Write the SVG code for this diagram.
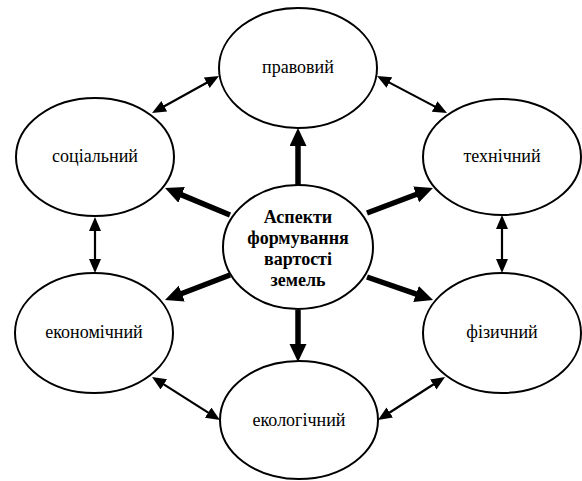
<svg xmlns="http://www.w3.org/2000/svg" width="582" height="481" viewBox="0 0 582 481">
<style>
.n{fill:#fff;stroke:#000;stroke-width:2}
.t{font-family:"Liberation Serif","DejaVu Serif",serif;font-size:18px;text-anchor:middle;fill:#000}
.b{font-weight:bold}
.thick{stroke:#000;stroke-width:5.5;fill:none}
.thin{stroke:#000;stroke-width:2.2;fill:none}
</style>
<defs>
<marker id="hb" markerUnits="userSpaceOnUse" markerWidth="20" markerHeight="20" refX="2" refY="8.5" orient="auto">
<path d="M0,0 L18,8.5 L0,17 z" fill="#000"/>
</marker>
<marker id="hs" markerUnits="userSpaceOnUse" markerWidth="16" markerHeight="14" refX="1" refY="6" orient="auto-start-reverse">
<path d="M0,0 L14,6 L0,12 z" fill="#000"/>
</marker>
</defs>
<rect width="582" height="481" fill="#fff"/>
<g id="connectors">
<line class="thick" x1="298" y1="185" x2="298" y2="144" marker-end="url(#hb)"/>
<line class="thick" x1="230" y1="215" x2="179.8" y2="194.1" marker-end="url(#hb)"/>
<line class="thick" x1="367" y1="213" x2="418" y2="193.7" marker-end="url(#hb)"/>
<line class="thick" x1="230" y1="275" x2="179.9" y2="294.3" marker-end="url(#hb)"/>
<line class="thick" x1="367" y1="277" x2="417.9" y2="294.7" marker-end="url(#hb)"/>
<line class="thick" x1="298" y1="310" x2="298" y2="346" marker-end="url(#hb)"/>
<line class="thin" x1="163.4" y1="106.7" x2="207.6" y2="82.3" marker-start="url(#hs)" marker-end="url(#hs)"/>
<line class="thin" x1="388.5" y1="82.1" x2="435.5" y2="106.9" marker-start="url(#hs)" marker-end="url(#hs)"/>
<line class="thin" x1="95" y1="230" x2="95" y2="260" marker-start="url(#hs)" marker-end="url(#hs)"/>
<line class="thin" x1="502" y1="228" x2="502" y2="260" marker-start="url(#hs)" marker-end="url(#hs)"/>
<line class="thin" x1="163" y1="383.9" x2="209" y2="413.1" marker-start="url(#hs)" marker-end="url(#hs)"/>
<line class="thin" x1="434.1" y1="384" x2="388.9" y2="413" marker-start="url(#hs)" marker-end="url(#hs)"/>
</g>
<g id="center">
<ellipse class="n" cx="298" cy="247" rx="75" ry="62"/>
<text class="t b" x="298" y="223">Аспекти</text>
<text class="t b" x="298" y="244">формування</text>
<text class="t b" x="298" y="265">вартості</text>
<text class="t b" x="298" y="286">земель</text>
</g>
<g id="pravovyi">
<ellipse class="n" cx="298" cy="68" rx="79" ry="60"/>
<text class="t" x="298" y="73">правовий</text>
</g>
<g id="sotsialnyi">
<ellipse class="n" cx="95" cy="157" rx="79" ry="59"/>
<text class="t" x="95" y="162">соціальний</text>
</g>
<g id="tekhnichnyi">
<ellipse class="n" cx="502" cy="157" rx="79" ry="58"/>
<text class="t" x="502" y="162">технічний</text>
</g>
<g id="ekonomichnyi">
<ellipse class="n" cx="94" cy="333" rx="79" ry="60"/>
<text class="t" x="94" y="338">економічний</text>
</g>
<g id="fizychnyi">
<ellipse class="n" cx="502" cy="333" rx="79" ry="60"/>
<text class="t" x="502" y="338">фізичний</text>
</g>
<g id="ekolohichnyi">
<ellipse class="n" cx="299" cy="420" rx="79" ry="59"/>
<text class="t" x="299" y="426">екологічний</text>
</g>
</svg>
